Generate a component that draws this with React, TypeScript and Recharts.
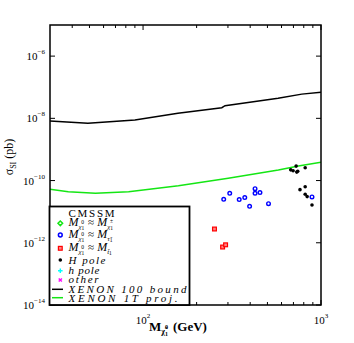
import React from "react";
import { Scatter, ScatterChart, XAxis, YAxis } from "recharts";

// neutralino mass (GeV) vs sigma_SI (pb)
const xenon100 = [
  { x: 30, y: 8.2e-9 },
  { x: 49, y: 6.9e-9 },
  { x: 90, y: 8.8e-9 },
  { x: 157, y: 1.45e-8 },
  { x: 277, y: 2.2e-8 },
  { x: 289, y: 2.55e-8 },
  { x: 574, y: 4.4e-8 },
  { x: 780, y: 6.0e-8 },
  { x: 1000, y: 6.85e-8 },
];

const xenon1T = [
  { x: 30, y: 5.3e-11 },
  { x: 38, y: 4.4e-11 },
  { x: 54, y: 3.9e-11 },
  { x: 83, y: 4.4e-11 },
  { x: 158, y: 6.8e-11 },
  { x: 301, y: 1.18e-10 },
  { x: 576, y: 2.18e-10 },
  { x: 746, y: 2.93e-10 },
  { x: 1000, y: 3.85e-10 },
];

const stauPoints = [
  { x: 284, y: 2.5e-11 },
  { x: 307, y: 3.9e-11 },
  { x: 347, y: 2.44e-11 },
  { x: 373, y: 2.83e-11 },
  { x: 397, y: 1.49e-11 },
  { x: 426, y: 5.5e-11 },
  { x: 426, y: 3.9e-11 },
  { x: 454, y: 4.1e-11 },
  { x: 507, y: 1.81e-11 },
  { x: 890, y: 2.98e-11 },
];

const stopPoints = [
  { x: 252, y: 2.77e-12 },
  { x: 280, y: 7.3e-13 },
  { x: 291, y: 8.6e-13 },
];

const hPolePoints = [
  { x: 676, y: 2.21e-10 },
  { x: 697, y: 2.06e-10 },
  { x: 725, y: 2.92e-10 },
  { x: 731, y: 1.87e-10 },
  { x: 740, y: 2.0e-10 },
  { x: 815, y: 2.57e-10 },
  { x: 762, y: 5.1e-11 },
  { x: 815, y: 6.3e-11 },
  { x: 815, y: 3.64e-11 },
  { x: 836, y: 3.05e-11 },
  { x: 890, y: 1.64e-11 },
];

const xTicks = [40, 50, 60, 70, 80, 90, 100, 200, 300, 400, 500, 600, 700, 800, 900, 1000];
const xLabelled = [100, 1000];
const yTicks = [1e-14, 1e-12, 1e-10, 1e-8, 1e-6];

const W = 354;
const H = 343;
const M = { top: 25, right: 33, bottom: 18, left: 20 };
const Y_AXIS_W = 30;
const X_AXIS_H = 20;
const PLOT_L = M.left + Y_AXIS_W;
const PLOT_T = M.top;
const PLOT_W = W - PLOT_L - M.right;
const PLOT_H = H - M.top - M.bottom - X_AXIS_H;

const SERIF = "'Liberation Serif', 'DejaVu Serif', serif";
const GREEN = "#14e614";

function XTick(props: any) {
  const { x, y, payload } = props;
  const v = payload.value;
  const major = xLabelled.includes(v);
  const len = major ? 5 : 3;
  return (
    <g>
      <line x1={x} y1={y} x2={x} y2={y - len} stroke="#000" />
      <line x1={x} y1={y - PLOT_H} x2={x} y2={y - PLOT_H + len} stroke="#000" />
      {major && (
        <text x={x} y={y + 19} textAnchor="middle" fontFamily={SERIF} fontSize={11} fill="#000">
          10
          <tspan dy={-6} fontSize={7}>
            {Math.round(Math.log10(v))}
          </tspan>
        </text>
      )}
    </g>
  );
}

function YTick(props: any) {
  const { x, y, payload } = props;
  const exp = Math.round(Math.log10(payload.value));
  return (
    <g>
      <line x1={x} y1={y} x2={x + 5} y2={y} stroke="#000" />
      <line x1={x + PLOT_W} y1={y} x2={x + PLOT_W - 5} y2={y} stroke="#000" />
      <text x={x - 5} y={y + 4} textAnchor="end" fontFamily={SERIF} fontSize={11} fill="#000">
        10
        <tspan dy={-6} fontSize={7}>
          {"\u2212" + Math.abs(exp)}
        </tspan>
      </text>
    </g>
  );
}

const noDot = () => <g />;

const ringDot = (p: any) => (
  <circle cx={p.cx} cy={p.cy} r={1.8} fill="#fff" stroke="#0000ff" strokeWidth={1.4} />
);
const redSquare = (p: any) => (
  <rect x={p.cx - 1.9} y={p.cy - 1.9} width={3.8} height={3.8} fill="#ff8080" stroke="#ff0000" strokeWidth={1.2} />
);
const blackDot = (p: any) => <circle cx={p.cx} cy={p.cy} r={1.8} fill="#000" />;

// one text per legend row: M_{chi_1^0} ≈ M_{...}
function MathRow({ y, sym, idx, sup }: { y: number; sym: string; idx: string; sup?: string }) {
  return (
    <text x={68.5} y={y + 4} fontFamily={SERIF} fontSize={12} fill="#000">
      <tspan fontStyle="italic">M</tspan>
      <tspan fontSize={7} dy={2.5} fontStyle="italic">χ</tspan>
      <tspan fontSize={5.5} dy={1.5}>1</tspan>
      <tspan fontSize={5.5} dx={-3} dy={-6}>0</tspan>
      <tspan fontSize={11} dx={4} dy={2}>≈</tspan>
      <tspan fontStyle="italic" dx={3}>M</tspan>
      <tspan fontSize={7} dy={2.5} fontStyle="italic">{sym}</tspan>
      <tspan fontSize={5.5} dy={1.5}>{idx}</tspan>
      {sup && (
        <tspan fontSize={5.5} dx={-3} dy={-7}>
          {sup}
        </tspan>
      )}
    </text>
  );
}

function Overlay() {
  const lx = 49.5;
  const ly = 206.5;
  return (
    <svg width={W} height={H} style={{ position: "absolute", left: 0, top: 0, pointerEvents: "none" }}>
      <rect x={PLOT_L} y={PLOT_T} width={PLOT_W} height={PLOT_H} fill="none" stroke="#000" strokeWidth={1.5} />
      <rect x={lx} y={ly} width={140} height={PLOT_T + PLOT_H - ly} fill="#fff" stroke="#000" strokeWidth={1.8} />
      <text x={68.5} y={216.5} fontFamily={SERIF} fontSize={11} textLength={46} lengthAdjust="spacing">
        CMSSM
      </text>
      {/* markers */}
      <path d="M60.3 221 L62.6 223.3 L60.3 225.6 L58 223.3 Z" fill="#fff" stroke={GREEN} strokeWidth={1.5} />
      <circle cx={60.3} cy={235} r={1.9} fill="#fff" stroke="#0000ff" strokeWidth={1.5} />
      <rect x={58.4} y={246.4} width={3.8} height={3.8} fill="#ff8080" stroke="#ff0000" strokeWidth={1.2} />
      <circle cx={60.3} cy={260} r={1.8} fill="#000" />
      <path d="M58 270.7 H62.6 M60.3 268.4 V273" stroke="#00ffff" strokeWidth={1.4} />
      <path d="M58.7 278.4 L61.9 281.6 M61.9 278.4 L58.7 281.6" stroke="#ff00ff" strokeWidth={1.4} />
      <line x1={52} y1={289.3} x2={63} y2={289.3} stroke="#000" strokeWidth={1.5} />
      <line x1={52} y1={297.7} x2={63} y2={297.7} stroke={GREEN} strokeWidth={1.5} />
      <MathRow y={222.3} sym={"χ"} idx="1" sup="±" />
      <MathRow y={234} sym={"τ\u0303"} idx="1" />
      <MathRow y={247.3} sym={"t\u0303"} idx="1" />
      <g fontFamily={SERIF} fontStyle="italic" fontSize={11} fill="#000">
        <text x={68.5} y={263.5} textLength={37} lengthAdjust="spacing">H pole</text>
        <text x={68.5} y={274} textLength={31} lengthAdjust="spacing">h pole</text>
        <text x={68.5} y={283} textLength={30} lengthAdjust="spacing">other</text>
        <text x={68.5} y={292.5} textLength={118} lengthAdjust="spacing">XENON 100 bound</text>
        <text x={68.5} y={301.5} textLength={109} lengthAdjust="spacing">XENON 1T proj.</text>
      </g>
      {/* axis titles */}
      <text transform="translate(13,157) rotate(-90)" textAnchor="middle" fontFamily={SERIF} fontSize={12}>
        σ<tspan dy={3} fontSize={8}>SI</tspan>
        <tspan dy={-3}> (pb)</tspan>
      </text>
      <text x={149} y={331} fontFamily={SERIF} fontWeight="bold" fontSize={13} fill="#000">
        M
        <tspan fontSize={8} dy={3}>χ̃</tspan>
        <tspan fontSize={6} dy={2}>1</tspan>
        <tspan fontSize={6} dx={-3} dy={-7}>0</tspan>
        <tspan dx={5} dy={2}>(GeV)</tspan>
      </text>
    </svg>
  );
}

export default function App() {
  return (
    <div style={{ position: "relative", width: W, height: H, background: "#fff" }}>
      <style>{`body{margin:0}`}</style>
      <ScatterChart width={W} height={H} margin={M}>
        <XAxis
          type="number"
          dataKey="x"
          scale="log"
          domain={[30, 1000]}
          allowDataOverflow
          ticks={xTicks}
          tick={<XTick />}
          tickSize={0}
          tickMargin={0}
          height={X_AXIS_H}
          axisLine={false}
          tickLine={false}
          interval={0}
        />
        <YAxis
          type="number"
          dataKey="y"
          scale="log"
          domain={[1e-14, 1e-5]}
          allowDataOverflow
          ticks={yTicks}
          tick={<YTick />}
          tickSize={0}
          tickMargin={0}
          width={Y_AXIS_W}
          axisLine={false}
          tickLine={false}
          interval={0}
        />
        <Scatter
          data={xenon100}
          line={{ stroke: "#000", strokeWidth: 1.5 }}
          shape={noDot}
          isAnimationActive={false}
        />
        <Scatter
          data={xenon1T}
          line={{ stroke: GREEN, strokeWidth: 1.5 }}
          shape={noDot}
          isAnimationActive={false}
        />
        <Scatter data={stauPoints} shape={ringDot} isAnimationActive={false} />
        <Scatter data={stopPoints} shape={redSquare} isAnimationActive={false} />
        <Scatter data={hPolePoints} shape={blackDot} isAnimationActive={false} />
      </ScatterChart>
      <Overlay />
    </div>
  );
}
